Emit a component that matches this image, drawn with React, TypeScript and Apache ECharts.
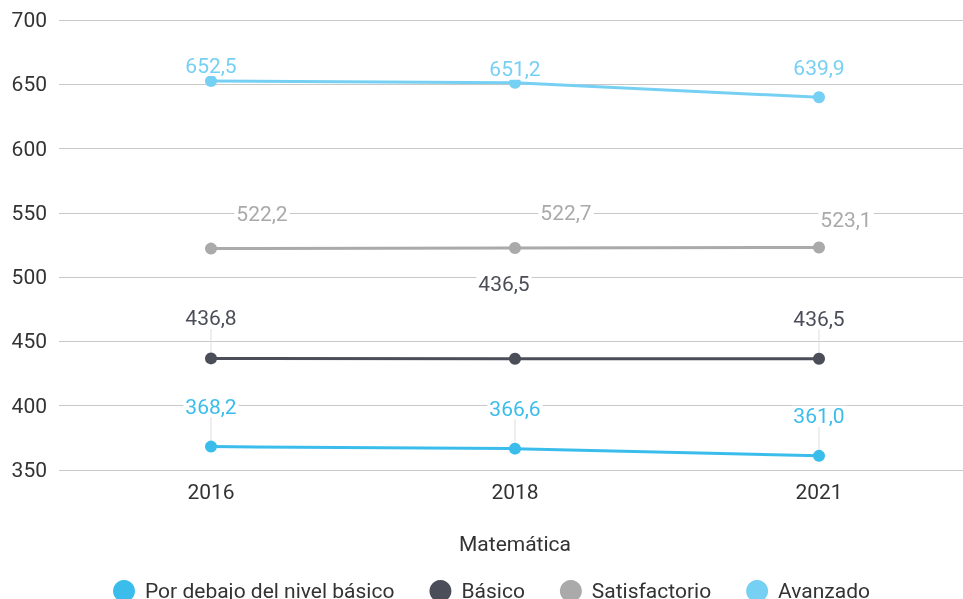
import React, { useEffect, useRef } from "react";
import * as echarts from "echarts";

const categories = ["2016", "2018", "2021"];
const seriesNames = ["Por debajo del nivel básico", "Básico", "Satisfactorio", "Avanzado"];
const porDebajo = [368.2, 366.6, 361.0];
const basico = [436.8, 436.5, 436.5];
const satisfactorio = [522.2, 522.7, 523.1];
const avanzado = [652.5, 651.2, 639.9];
const yTicks = { min: 350, max: 700, interval: 50 };

const colors = ["#3BBDEC", "#4B4E58", "#AAAAAA", "#76D0F3"];

// label shifts (dx, dy) relative to default "top" placement, per series / point
const labelShift: number[][][] = [
  [[0, -18.5], [0, -18.5], [0, -18]],
  [[0, -18.5], [-11, -53.5], [0, -18.5]],
  [[51, -13.5], [51, -13.5], [27, -6]],
  [[0, 6], [0, 8], [0, -8]],
];
// whether a guide line is drawn from the point to its label
const showGuide: boolean[][] = [
  [true, true, true],
  [true, false, true],
  [false, false, false],
  [false, false, false],
];

const fmt = (v: number) => v.toFixed(1).replace(".", ",");

export default function App() {
  const ref = useRef<HTMLDivElement>(null);
  useEffect(() => {
    if (!ref.current) return;
    document.body.style.margin = "0";
    document.body.style.overflow = "hidden";
    const chart = echarts.init(ref.current, null, { renderer: "svg" });
    const values = [porDebajo, basico, satisfactorio, avanzado];
    const font = "Roboto";
    chart.setOption({
      animation: false,
      color: colors,
      textStyle: { fontFamily: font },
      grid: { left: 59, top: 20, right: 14, height: 450, containLabel: false },
      legend: {
        left: 108,
        top: 575,
        icon: "circle",
        itemWidth: 22,
        itemHeight: 22,
        itemGap: 35,
        textStyle: { fontSize: 21, color: "#333", fontFamily: font, padding: [0, 0, 0, 5] },
        data: seriesNames,
      },
      xAxis: {
        type: "category",
        data: categories,
        boundaryGap: true,
        axisLine: { show: false },
        axisTick: { show: false },
        axisLabel: { fontSize: 21, color: "#333", margin: 11, fontFamily: font },
        name: "Matemática",
        nameLocation: "middle",
        nameGap: 63,
        nameTextStyle: { fontSize: 21, color: "#333", fontFamily: font },
      },
      yAxis: {
        type: "value",
        min: yTicks.min,
        max: yTicks.max,
        interval: yTicks.interval,
        axisLine: { show: false },
        axisTick: { show: false },
        axisLabel: { fontSize: 21, color: "#333", margin: 12, fontFamily: font },
        splitLine: { lineStyle: { color: "#c8c8c8", width: 1.2 } },
      },
      series: values.map((vals, si) => ({
        name: seriesNames[si],
        type: "line",
        data: vals.map((v, di) => ({
          value: v,
          labelLine: { show: showGuide[si][di] },
        })),
        symbol: "circle",
        symbolSize: 12,
        lineStyle: { width: 3 },
        label: {
          show: true,
          position: "top",
          fontSize: 21,
          fontFamily: font,
          color: colors[si],
          backgroundColor: "#ffffff",
          padding: [0, 2],
          formatter: (p: any) => fmt(p.value),
        },
        labelLine: { show: true, lineStyle: { color: "#dddddd", width: 1 } },
        labelLayout: (params: any) => {
          const s = labelShift[params.seriesIndex][params.dataIndex];
          return { dx: s[0], dy: s[1] };
        },
      })),
    });
    return () => chart.dispose();
  }, []);
  return (
    <div
      ref={ref}
      style={{ position: "fixed", left: 0, top: 0, width: 985, height: 599 }}
    />
  );
}
